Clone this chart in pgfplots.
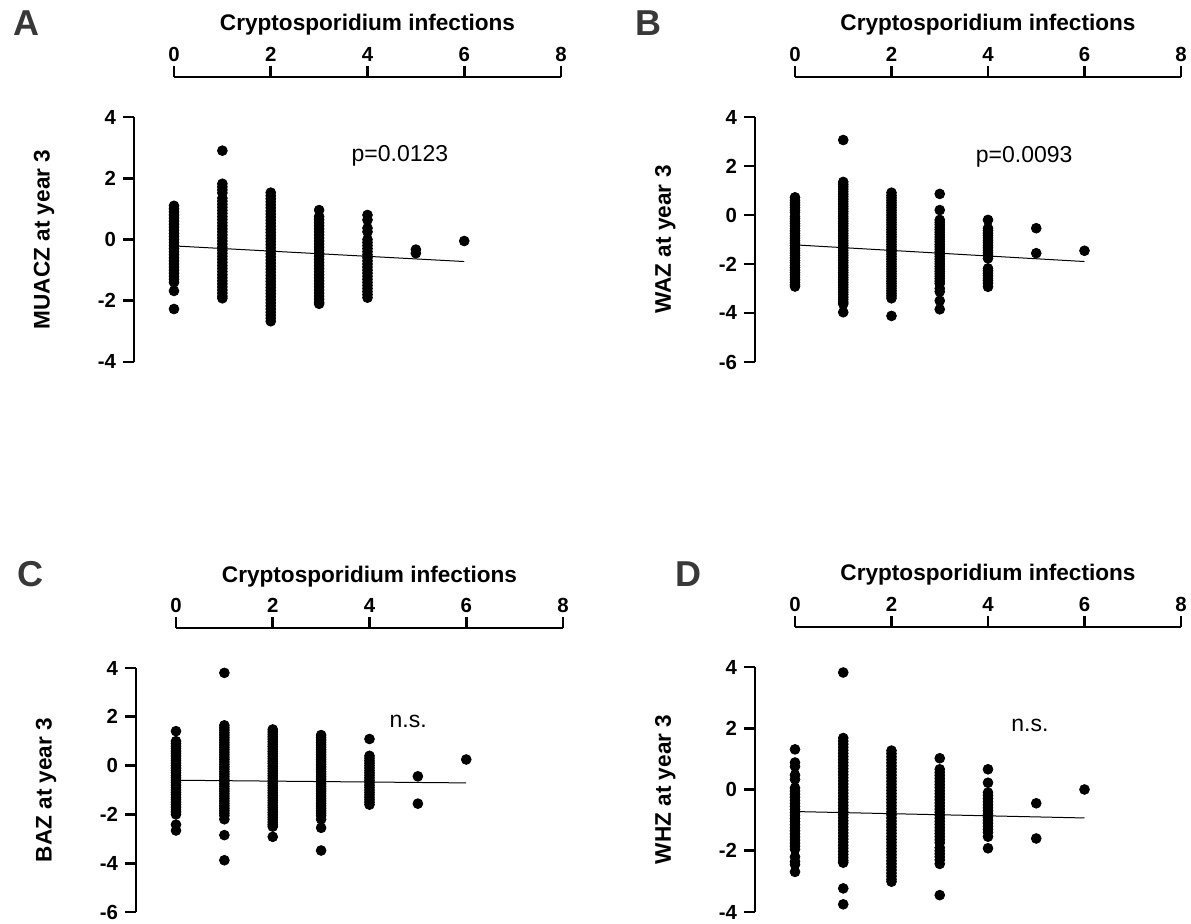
\documentclass[border=0pt]{standalone}
\usepackage{pgfplots}
\pgfplotsset{compat=1.18}
\usepackage{fontspec}
\setmainfont{Liberation Sans}
\definecolor{lettergray}{HTML}{383838}
\tikzset{ann/.style={font=\fontsize{11.5}{13}\selectfont}}
\pgfplotsset{
  panel/.style={
    scale only axis, width=193.5pt, height=122.5pt,
    xmin=0, xmax=8, xtick={0,2,4,6,8},
    axis x line*=top, axis y line*=left,
    axis x line shift=20pt, axis y line shift=20pt,
    axis line style={line width=1.35pt, -},
    tick style={line width=1.35pt, black},
    tick align=outside, major tick length=5.5pt,
    /pgf/number format/assume math mode=true,
    ticklabel style={font=\fontsize{10.2}{11}\selectfont\bfseries},
    xticklabel style={yshift=-1.2pt},
    xlabel={Cryptosporidium infections},
    xlabel style={at={(axis description cs:0.5,1.352)}, anchor=base, font=\fontsize{11.3}{13}\selectfont\bfseries},
    ylabel style={at={(axis description cs:-0.336,0.5)}, anchor=center, font=\fontsize{11.3}{13}\selectfont\bfseries},
    clip=false,
  },
  dots/.style={only marks, mark=*, mark size=2.45pt, black},
  fit/.style={no marks, black, line width=0.5pt},
}
\begin{document}
\begin{tikzpicture}
\useasboundingbox (0,0) rectangle (595.5pt,462pt);
\node[font=\fontsize{18}{18}\selectfont\bfseries, text=lettergray] at (13pt,450.5pt) {A};
\node[font=\fontsize{18}{18}\selectfont\bfseries, text=lettergray] at (324pt,450.5pt) {B};
\node[font=\fontsize{18}{18}\selectfont\bfseries, text=lettergray] at (15pt,175pt) {C};
\node[font=\fontsize{18}{18}\selectfont\bfseries, text=lettergray] at (344pt,175pt) {D};

% ---------------- A ----------------
\begin{axis}[panel, at={(87pt,281pt)}, anchor=south west,
  ymin=-4, ymax=4, ytick={-4,-2,0,2,4}, ylabel={MUACZ at year 3}]
\addplot[fit] coordinates {(0,-0.21) (6,-0.72)};
\addplot[dots] coordinates {
(0,1.1)(0,1.0)(0,0.9)(0,0.8)(0,0.7)(0,0.6)(0,0.5)(0,0.4)(0,0.3)(0,0.2)(0,0.1)(0,0)(0,-0.1)(0,-0.2)(0,-0.3)(0,-0.4)(0,-0.5)(0,-0.6)(0,-0.7)(0,-0.8)(0,-0.9)(0,-1.0)(0,-1.1)(0,-1.2)(0,-1.3)(0,-1.4)(0,-1.68)(0,-2.27)
(1,2.9)(1,1.82)(1,1.72)(1,1.62)(1,1.52)(1,1.35)(1,1.25)(1,1.15)(1,1.05)(1,0.95)(1,0.85)(1,0.75)(1,0.65)(1,0.55)(1,0.45)(1,0.35)(1,0.25)(1,0.15)(1,0.05)(1,-0.05)(1,-0.15)(1,-0.25)(1,-0.35)(1,-0.45)(1,-0.55)(1,-0.65)(1,-0.75)(1,-0.85)(1,-0.95)(1,-1.05)(1,-1.15)(1,-1.25)(1,-1.35)(1,-1.45)(1,-1.55)(1,-1.65)(1,-1.75)(1,-1.85)(1,-1.92)
(2,1.53)(2,1.43)(2,1.33)(2,1.23)(2,1.13)(2,1.03)(2,0.93)(2,0.83)(2,0.73)(2,0.63)(2,0.53)(2,0.43)(2,0.33)(2,0.23)(2,0.13)(2,0.03)(2,-0.07)(2,-0.17)(2,-0.27)(2,-0.37)(2,-0.47)(2,-0.57)(2,-0.67)(2,-0.77)(2,-0.87)(2,-0.97)(2,-1.07)(2,-1.17)(2,-1.27)(2,-1.37)(2,-1.47)(2,-1.57)(2,-1.67)(2,-1.77)(2,-1.87)(2,-1.97)(2,-2.07)(2,-2.17)(2,-2.27)(2,-2.37)(2,-2.47)(2,-2.57)(2,-2.67)
(3,0.96)(3,0.75)(3,0.65)(3,0.55)(3,0.45)(3,0.35)(3,0.25)(3,0.15)(3,0.05)(3,-0.05)(3,-0.15)(3,-0.25)(3,-0.35)(3,-0.45)(3,-0.55)(3,-0.65)(3,-0.75)(3,-0.85)(3,-0.95)(3,-1.05)(3,-1.15)(3,-1.25)(3,-1.35)(3,-1.45)(3,-1.55)(3,-1.65)(3,-1.75)(3,-1.85)(3,-1.95)(3,-2.05)(3,-2.1)
(4,0.8)(4,0.64)(4,0.37)(4,0.25)(4,0.0)(4,-0.1)(4,-0.2)(4,-0.3)(4,-0.4)(4,-0.5)(4,-0.6)(4,-0.7)(4,-0.8)(4,-0.9)(4,-1.0)(4,-1.1)(4,-1.2)(4,-1.3)(4,-1.4)(4,-1.5)(4,-1.6)(4,-1.7)(4,-1.8)(4,-1.9)
(5,-0.33)(5,-0.45)
(6,-0.05)
};
\node[ann] at (axis cs:4.67,2.73) {p=0.0123};
\end{axis}

% ---------------- B ----------------
\begin{axis}[panel, at={(397.5pt,281pt)}, anchor=south west, width=193pt,
  ymin=-6, ymax=4, ytick={-6,-4,-2,0,2,4}, ylabel={WAZ at year 3}]
\addplot[fit] coordinates {(0,-1.22) (6,-1.9)};
\addplot[dots] coordinates {
(0,0.72)(0,0.6)(0,0.5)(0,0.4)(0,0.3)(0,0.2)(0,0.1)(0,-0.05)(0,-0.15)(0,-0.25)(0,-0.35)(0,-0.45)(0,-0.55)(0,-0.65)(0,-0.75)(0,-0.85)(0,-0.95)(0,-1.05)(0,-1.15)(0,-1.25)(0,-1.35)(0,-1.45)(0,-1.55)(0,-1.65)(0,-1.75)(0,-1.85)(0,-1.95)(0,-2.05)(0,-2.15)(0,-2.25)(0,-2.35)(0,-2.45)(0,-2.55)(0,-2.65)(0,-2.75)(0,-2.85)(0,-2.92)
(1,3.06)(1,1.35)(1,1.25)(1,1.15)(1,1.05)(1,0.95)(1,0.85)(1,0.75)(1,0.65)(1,0.55)(1,0.45)(1,0.35)(1,0.25)(1,0.15)(1,0.05)(1,-0.05)(1,-0.15)(1,-0.25)(1,-0.35)(1,-0.45)(1,-0.55)(1,-0.65)(1,-0.75)(1,-0.85)(1,-0.95)(1,-1.05)(1,-1.15)(1,-1.25)(1,-1.35)(1,-1.45)(1,-1.55)(1,-1.65)(1,-1.75)(1,-1.85)(1,-1.95)(1,-2.05)(1,-2.15)(1,-2.25)(1,-2.35)(1,-2.45)(1,-2.55)(1,-2.65)(1,-2.75)(1,-2.85)(1,-2.95)(1,-3.05)(1,-3.15)(1,-3.25)(1,-3.35)(1,-3.45)(1,-3.55)(1,-3.63)(1,-3.97)
(2,0.91)(2,0.8)(2,0.7)(2,0.6)(2,0.5)(2,0.4)(2,0.3)(2,0.2)(2,0.1)(2,0)(2,-0.1)(2,-0.2)(2,-0.3)(2,-0.4)(2,-0.5)(2,-0.6)(2,-0.7)(2,-0.8)(2,-0.9)(2,-1.0)(2,-1.1)(2,-1.2)(2,-1.3)(2,-1.4)(2,-1.5)(2,-1.6)(2,-1.7)(2,-1.8)(2,-1.9)(2,-2.0)(2,-2.1)(2,-2.2)(2,-2.3)(2,-2.4)(2,-2.5)(2,-2.6)(2,-2.7)(2,-2.8)(2,-2.9)(2,-3.0)(2,-3.1)(2,-3.2)(2,-3.3)(2,-3.4)(2,-4.12)
(3,0.86)(3,0.2)(3,-0.2)(3,-0.3)(3,-0.4)(3,-0.5)(3,-0.6)(3,-0.7)(3,-0.8)(3,-0.9)(3,-1.0)(3,-1.1)(3,-1.2)(3,-1.3)(3,-1.4)(3,-1.5)(3,-1.6)(3,-1.7)(3,-1.8)(3,-1.9)(3,-2.0)(3,-2.1)(3,-2.2)(3,-2.3)(3,-2.4)(3,-2.5)(3,-2.6)(3,-2.7)(3,-2.8)(3,-3.0)(3,-3.13)(3,-3.5)(3,-3.85)
(4,-0.2)(4,-0.54)(4,-0.64)(4,-0.74)(4,-0.84)(4,-0.94)(4,-1.04)(4,-1.14)(4,-1.24)(4,-1.34)(4,-1.44)(4,-1.54)(4,-1.64)(4,-1.77)(4,-2.18)(4,-2.28)(4,-2.38)(4,-2.48)(4,-2.58)(4,-2.68)(4,-2.78)(4,-2.93)
(5,-0.54)(5,-1.56)
(6,-1.46)
};
\node[ann] at (axis cs:4.75,2.38) {p=0.0093};
\end{axis}

% ---------------- C ----------------
\begin{axis}[panel, at={(88pt,6pt)}, anchor=south west, height=122pt,
  ymin=-6, ymax=4, ytick={-6,-4,-2,0,2,4}, ylabel={BAZ at year 3}]
\addplot[fit] coordinates {(0,-0.6) (6,-0.71)};
\addplot[dots] coordinates {
(0,1.41)(0,1.0)(0,0.9)(0,0.8)(0,0.7)(0,0.6)(0,0.5)(0,0.4)(0,0.3)(0,0.2)(0,0.1)(0,0)(0,-0.1)(0,-0.2)(0,-0.3)(0,-0.4)(0,-0.5)(0,-0.6)(0,-0.7)(0,-0.8)(0,-0.9)(0,-1.0)(0,-1.1)(0,-1.2)(0,-1.3)(0,-1.4)(0,-1.5)(0,-1.6)(0,-1.7)(0,-1.8)(0,-1.9)(0,-2.0)(0,-2.42)(0,-2.66)
(1,3.8)(1,1.65)(1,1.55)(1,1.45)(1,1.35)(1,1.25)(1,1.15)(1,1.05)(1,0.95)(1,0.85)(1,0.75)(1,0.65)(1,0.55)(1,0.45)(1,0.35)(1,0.25)(1,0.15)(1,0.05)(1,-0.05)(1,-0.15)(1,-0.25)(1,-0.35)(1,-0.45)(1,-0.55)(1,-0.65)(1,-0.75)(1,-0.85)(1,-0.95)(1,-1.05)(1,-1.15)(1,-1.25)(1,-1.35)(1,-1.45)(1,-1.55)(1,-1.65)(1,-1.75)(1,-1.85)(1,-1.95)(1,-2.05)(1,-2.2)(1,-2.85)(1,-3.88)
(2,1.48)(2,1.38)(2,1.28)(2,1.18)(2,1.08)(2,0.98)(2,0.88)(2,0.78)(2,0.68)(2,0.58)(2,0.48)(2,0.38)(2,0.28)(2,0.18)(2,0.08)(2,-0.02)(2,-0.12)(2,-0.22)(2,-0.32)(2,-0.42)(2,-0.52)(2,-0.62)(2,-0.72)(2,-0.82)(2,-0.92)(2,-1.02)(2,-1.12)(2,-1.22)(2,-1.32)(2,-1.42)(2,-1.52)(2,-1.62)(2,-1.72)(2,-1.82)(2,-1.92)(2,-2.02)(2,-2.12)(2,-2.22)(2,-2.32)(2,-2.42)(2,-2.5)(2,-2.92)
(3,1.25)(3,1.15)(3,1.05)(3,0.95)(3,0.85)(3,0.75)(3,0.65)(3,0.55)(3,0.45)(3,0.35)(3,0.25)(3,0.15)(3,0.05)(3,-0.05)(3,-0.15)(3,-0.25)(3,-0.35)(3,-0.45)(3,-0.55)(3,-0.65)(3,-0.75)(3,-0.85)(3,-0.95)(3,-1.05)(3,-1.15)(3,-1.25)(3,-1.35)(3,-1.45)(3,-1.55)(3,-1.65)(3,-1.75)(3,-1.85)(3,-1.95)(3,-2.05)(3,-2.2)(3,-2.55)(3,-3.48)
(4,1.09)(4,0.4)(4,0.3)(4,0.2)(4,0.1)(4,0)(4,-0.1)(4,-0.2)(4,-0.3)(4,-0.4)(4,-0.5)(4,-0.6)(4,-0.7)(4,-0.8)(4,-0.9)(4,-1.0)(4,-1.1)(4,-1.2)(4,-1.3)(4,-1.4)(4,-1.5)(4,-1.6)
(5,-0.44)(5,-1.56)
(6,0.25)
};
\node[ann] at (axis cs:4.8,1.8) {n.s.};
\end{axis}

% ---------------- D ----------------
\begin{axis}[panel, at={(397.5pt,6pt)}, anchor=south west, width=193pt, height=122.5pt,
  ymin=-4, ymax=4, ytick={-4,-2,0,2,4}, ylabel={WHZ at year 3}]
\addplot[fit] coordinates {(0,-0.72) (6,-0.93)};
\addplot[dots] coordinates {
(0,1.31)(0,0.88)(0,0.75)(0,0.47)(0,0.33)(0,0.05)(0,-0.05)(0,-0.15)(0,-0.25)(0,-0.35)(0,-0.45)(0,-0.55)(0,-0.65)(0,-0.75)(0,-0.85)(0,-0.95)(0,-1.05)(0,-1.15)(0,-1.25)(0,-1.35)(0,-1.45)(0,-1.55)(0,-1.65)(0,-1.75)(0,-1.85)(0,-1.95)(0,-2.2)(0,-2.35)(0,-2.45)(0,-2.69)
(1,3.82)(1,1.68)(1,1.58)(1,1.48)(1,1.38)(1,1.28)(1,1.18)(1,1.08)(1,0.98)(1,0.88)(1,0.78)(1,0.68)(1,0.58)(1,0.48)(1,0.38)(1,0.28)(1,0.18)(1,0.08)(1,-0.02)(1,-0.12)(1,-0.22)(1,-0.32)(1,-0.42)(1,-0.52)(1,-0.62)(1,-0.72)(1,-0.82)(1,-0.92)(1,-1.02)(1,-1.12)(1,-1.22)(1,-1.32)(1,-1.42)(1,-1.52)(1,-1.62)(1,-1.72)(1,-1.82)(1,-1.92)(1,-2.02)(1,-2.12)(1,-2.22)(1,-2.32)(1,-2.39)(1,-3.23)(1,-3.75)
(2,1.27)(2,1.17)(2,1.07)(2,0.97)(2,0.87)(2,0.77)(2,0.67)(2,0.57)(2,0.47)(2,0.37)(2,0.27)(2,0.17)(2,0.07)(2,-0.03)(2,-0.13)(2,-0.23)(2,-0.33)(2,-0.43)(2,-0.53)(2,-0.63)(2,-0.73)(2,-0.83)(2,-0.93)(2,-1.03)(2,-1.13)(2,-1.23)(2,-1.33)(2,-1.43)(2,-1.53)(2,-1.63)(2,-1.73)(2,-1.83)(2,-1.93)(2,-2.03)(2,-2.13)(2,-2.23)(2,-2.33)(2,-2.43)(2,-2.53)(2,-2.63)(2,-2.73)(2,-2.83)(2,-2.93)(2,-3.01)
(3,1.02)(3,0.66)(3,0.56)(3,0.46)(3,0.36)(3,0.26)(3,0.16)(3,0.06)(3,-0.04)(3,-0.14)(3,-0.24)(3,-0.34)(3,-0.44)(3,-0.54)(3,-0.64)(3,-0.74)(3,-0.84)(3,-0.94)(3,-1.04)(3,-1.14)(3,-1.24)(3,-1.34)(3,-1.44)(3,-1.54)(3,-1.64)(3,-1.74)(3,-1.9)(3,-2.0)(3,-2.1)(3,-2.2)(3,-2.3)(3,-2.43)(3,-3.45)
(4,0.66)(4,0.22)(4,-0.1)(4,-0.2)(4,-0.3)(4,-0.4)(4,-0.5)(4,-0.6)(4,-0.7)(4,-0.8)(4,-0.9)(4,-1.0)(4,-1.1)(4,-1.2)(4,-1.3)(4,-1.4)(4,-1.54)(4,-1.92)
(5,-0.45)(5,-1.6)
(6,0.0)
};
\node[ann] at (axis cs:4.87,2.1) {n.s.};
\end{axis}
\end{tikzpicture}
\end{document}
